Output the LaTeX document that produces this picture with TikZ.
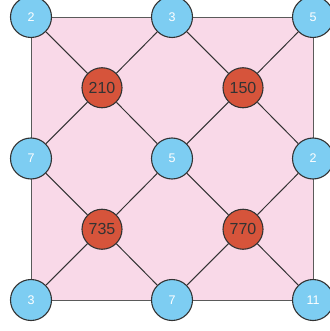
\documentclass[tikz,border=0pt]{standalone}
\usepackage{fontspec}
\setmainfont{Liberation Sans}
\usepackage{tikz}
\usetikzlibrary{positioning, backgrounds}
\definecolor{leafblue}{HTML}{7DCDF2}
\definecolor{prodred}{HTML}{D6543B}
\definecolor{panelpink}{HTML}{F9D9E8}
\definecolor{darkgray}{HTML}{333333}
\definecolor{framegray}{HTML}{5A5A5A}
\tikzset{
  leaf/.style={
    circle, minimum size=41pt, inner sep=0pt,
    draw=darkgray, line width=1.1pt,
    fill=leafblue, text=white, font=\fontsize{12.5}{14}\selectfont,
  },
  product/.style={
    circle, minimum size=40pt, inner sep=0pt,
    draw=darkgray, line width=1.1pt,
    fill=prodred, text=darkgray, font=\fontsize{16}{18}\selectfont,
  },
  panelbox/.style={draw=framegray, line width=0.9pt, fill=panelpink},
  link/.style={draw=darkgray, line width=1pt},
}

\begin{document}
\begin{tikzpicture}[x=1pt, y=-1pt, on grid]

  \useasboundingbox (0,0) rectangle (329,331);

  \node[leaf] (tl) at (31,17) {2};
  \node[leaf, right=141pt of tl] (tm) {3};
  \node[leaf, right=141pt of tm] (tr) {5};
  \node[leaf, below=141.5pt of tl] (ml) {7};
  \node[leaf, below=141.5pt of tm] (c) {5};
  \node[leaf, below=141.5pt of tr] (mr) {2};
  \node[leaf, below=141.5pt of ml] (bl) {3};
  \node[leaf, below=141.5pt of c] (bm) {7};
  \node[leaf, below=141.5pt of mr] (br) {11};

  \node[product, below right=70.75pt and 71pt of tl] (p210) {210};
  \node[product, below right=70.75pt and 71pt of tm] (p150) {150};
  \node[product, below right=70.75pt and 71pt of ml] (p735) {735};
  \node[product, below right=70.75pt and 71pt of c] (p770) {770};

  \begin{scope}[on background layer]
    \draw[panelbox] (tl.center) rectangle (br.center);
  \end{scope}

  \draw[link] (tl) -- (p210) -- (c) -- (p770) -- (br);
  \draw[link] (tr) -- (p150) -- (c) -- (p735) -- (bl);
  \draw[link] (tm) -- (p210) -- (ml);
  \draw[link] (tm) -- (p150) -- (mr);
  \draw[link] (ml) -- (p735) -- (bm);
  \draw[link] (mr) -- (p770) -- (bm);

\end{tikzpicture}
\end{document}
